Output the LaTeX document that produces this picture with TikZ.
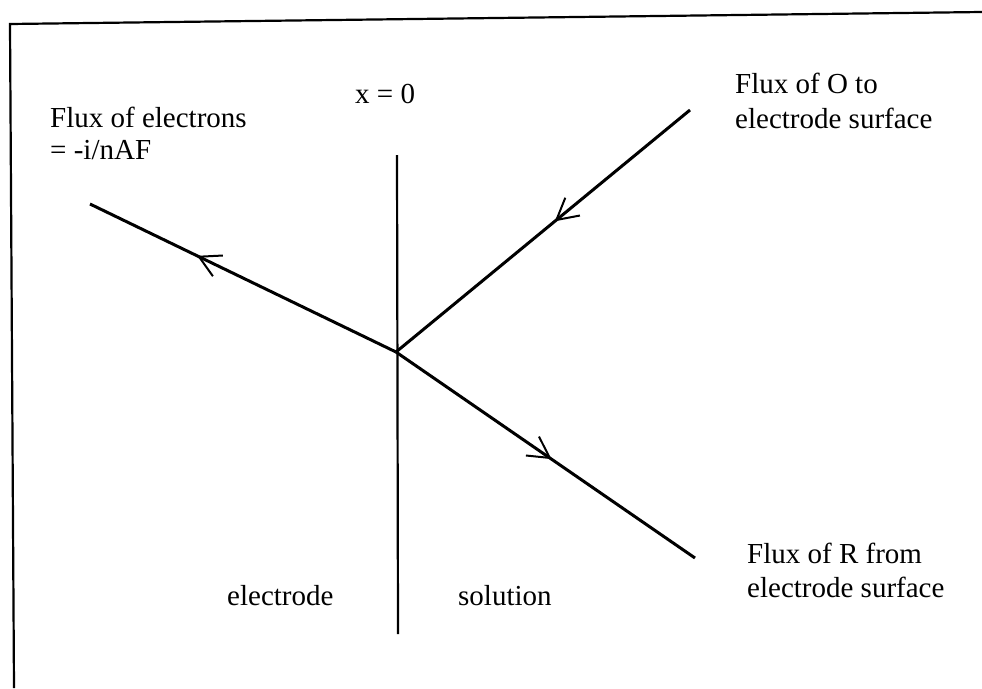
\documentclass[tikz,border=0pt]{standalone}
\usepackage{fontspec}
\setmainfont{Liberation Serif}
\usetikzlibrary{arrows.meta,decorations.markings}
\tikzset{fluxbarb/.tip={Straight Barb[length=21pt,width=23pt,line width=2pt]}}
\begin{document}
\begin{tikzpicture}[x=1pt,y=-1pt,
  lbl/.style={inner sep=0pt, anchor=base west, font=\fontsize{29}{35}\selectfont},
  frameline/.style={line width=2.2pt, black},
  axis/.style={line width=2.2pt, black},
  flux/.style={line width=3pt, black},
  midarrow/.style={postaction={decorate, decoration={markings,
      mark=at position #1 with {\arrow{fluxbarb}}}}}
]
\useasboundingbox (0,0) rectangle (982,688);
% frame
\coordinate (fTL) at (10,24);
\coordinate (fTR) at (982,12);
\coordinate (fBL) at (14,688);
\draw[frameline] (fTR) -- (fTL) -- (fBL);
% axis x = 0
\coordinate (axTop) at (397,155);
\coordinate (axBot) at (398,634);
\draw[axis] (axTop) -- (axBot);
% junction and flux lines
\coordinate (J) at (396,352);
\coordinate (E) at (90,204);
\coordinate (O) at (690,110);
\coordinate (R) at (695,558);
\draw[flux, midarrow=0.65] (J) -- (E);
\draw[flux, midarrow=0.46] (O) -- (J);
\draw[flux, midarrow=0.52] (J) -- (R);
% labels
\node[lbl] (x0) at (355,103) {x = 0};
\node[lbl] (fe1) at (50,127) {Flux of electrons};
\node[lbl] (fe2) at (50,159) {= -i/nAF};
\node[lbl] (fo1) at (735,93) {Flux of O to};
\node[lbl] (fo2) at (735,128) {electrode surface};
\node[lbl] (fr1) at (747,563) {Flux of R from};
\node[lbl] (fr2) at (747,597) {electrode surface};
\node[lbl] (el) at (227,605) {electrode};
\node[lbl] (so) at (458,605) {solution};
\end{tikzpicture}
\end{document}
